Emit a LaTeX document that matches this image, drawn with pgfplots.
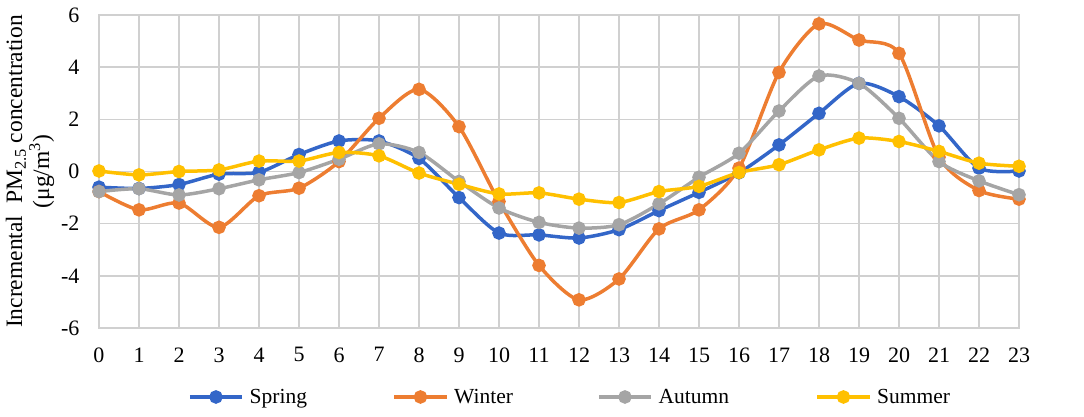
\documentclass[border=0pt]{standalone}
\usepackage{fontspec}
\setmainfont{Liberation Serif}
\usepackage{pgfplots}
\pgfplotsset{compat=1.18}
\definecolor{cSpring}{HTML}{3366C8}
\definecolor{cWinter}{HTML}{ED7D31}
\definecolor{cAutumn}{HTML}{A5A5A5}
\definecolor{cSummer}{HTML}{FFC000}
\definecolor{cGrid}{HTML}{D0D0D0}
\begin{document}
\begin{tikzpicture}[x=1pt,y=1pt]
\path[use as bounding box] (0,0) rectangle (1084,417);
\begin{axis}[
  at={(99pt,89pt)}, anchor=south west,
  scale only axis, width=920pt, height=313pt,
  xmin=0, xmax=23, ymin=-6, ymax=6,
  xtick={0,1,...,23}, ytick={-6,-4,...,6},
  grid=major,
  major grid style={draw=cGrid, line width=1.6pt},
  axis line style={draw=cGrid, line width=1.6pt},
  tick style={draw=none},
  /pgf/number format/assume math mode=true,
  ticklabel style={font=\fontsize{22}{26}\selectfont},
  xticklabel style={yshift=-16pt},
  yticklabel style={xshift=-16pt},
  ylabel={Incremental\ \ PM\textsubscript{2.5} concentration\\(μg/m\textsuperscript{3})},
  ylabel style={at={(rel axis cs:0,0.5)}, anchor=center, yshift=69pt, align=center, font=\fontsize{23.5}{27}\selectfont},
  legend columns=4,
  legend style={at={(0.0935,-0.2204)}, anchor=west, draw=none, fill=none,
    font=\fontsize{21.5}{25}\selectfont, /tikz/every even column/.append style={column sep=0pt}},
  legend image code/.code={\draw[#1, mark repeat=2, mark phase=2] plot coordinates {(0pt,0pt) (26pt,0pt) (52pt,0pt)};},
  every axis plot/.append style={line width=3.5pt, smooth, tension=0.45, mark=*, mark size=5pt, mark options={solid}},
]
\addplot[color=cSpring] coordinates {
(0,-0.6) (1,-0.65) (2,-0.5) (3,-0.1) (4,-0.03) (5,0.65) (6,1.17) (7,1.17) (8,0.5) (9,-1.0) (10,-2.36) (11,-2.43)
(12,-2.55) (13,-2.23) (14,-1.5) (15,-0.8) (16,-0.05) (17,1.02) (18,2.23) (19,3.38) (20,2.87) (21,1.75) (22,0.13) (23,0.02)};
\addlegendentry{\makebox[145pt][l]{\hspace{4pt}Spring}}
\addplot[color=cWinter] coordinates {
(0,-0.77) (1,-1.47) (2,-1.21) (3,-2.14) (4,-0.93) (5,-0.64) (6,0.38) (7,2.04) (8,3.15) (9,1.72) (10,-1.15) (11,-3.6)
(12,-4.92) (13,-4.12) (14,-2.2) (15,-1.47) (16,0.13) (17,3.8) (18,5.66) (19,5.04) (20,4.53) (21,0.55) (22,-0.73) (23,-1.06)};
\addlegendentry{\makebox[145pt][l]{\hspace{4pt}Winter}}
\addplot[color=cAutumn] coordinates {
(0,-0.77) (1,-0.66) (2,-0.9) (3,-0.66) (4,-0.32) (5,-0.04) (6,0.47) (7,1.06) (8,0.73) (9,-0.38) (10,-1.4) (11,-1.95)
(12,-2.17) (13,-2.04) (14,-1.24) (15,-0.22) (16,0.7) (17,2.32) (18,3.66) (19,3.38) (20,2.04) (21,0.38) (22,-0.36) (23,-0.89)};
\addlegendentry{\makebox[159pt][l]{\hspace{4pt}Autumn}}
\addplot[color=cSummer] coordinates {
(0,0.02) (1,-0.13) (2,0.0) (3,0.06) (4,0.4) (5,0.4) (6,0.73) (7,0.6) (8,-0.06) (9,-0.49) (10,-0.86) (11,-0.82)
(12,-1.06) (13,-1.19) (14,-0.77) (15,-0.57) (16,-0.04) (17,0.26) (18,0.83) (19,1.28) (20,1.15) (21,0.77) (22,0.32) (23,0.2)};
\addlegendentry{\hspace{4pt}Summer}
\node[font=\fontsize{22}{26}\selectfont] at (rel axis cs:1,0) [xshift=47pt, yshift=-20pt] {(h)};
\end{axis}
\end{tikzpicture}
\end{document}
